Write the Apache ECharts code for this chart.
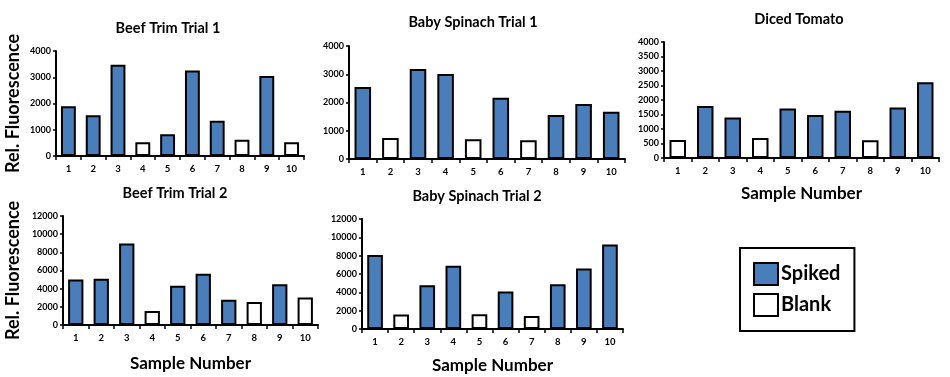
<!DOCTYPE html>
<html lang="en">
<head>
    <meta charset="UTF-8">
    <title>Rel. Fluorescence by Sample</title>
    <script src="https://cdn.jsdelivr.net/npm/echarts@6/dist/echarts.min.js"></script>
    <style>
        html, body { margin: 0; padding: 0; background: #fff; }
        #chart { width: 950px; height: 377px; }
    </style>
</head>
<body>
    <div id="chart"></div>
    <script>
        // sample labels on every x axis
        const samples = ['1', '2', '3', '4', '5', '6', '7', '8', '9', '10'];

        // values, one array per panel
        const beefTrim1 = [1900, 1550, 3480, 520, 830, 3260, 1340, 620, 3050, 520];
        const babySpinach1 = [2550, 740, 3190, 3010, 700, 2170, 660, 1560, 1950, 1670];
        const dicedTomato = [620, 1790, 1400, 690, 1710, 1480, 1630, 610, 1740, 2610];
        const beefTrim2 = [5010, 5090, 8960, 1540, 4320, 5630, 2780, 2520, 4500, 3040];
        const babySpinach2 = [8060, 1570, 4780, 6890, 1600, 4090, 1420, 4890, 6600, 9230];

        // which samples are blanks (the rest are spiked)
        const beefTrim1Blank = ['4', '8', '10'];
        const babySpinach1Blank = ['2', '5', '7'];
        const dicedTomatoBlank = ['1', '4', '8'];
        const beefTrim2Blank = ['4', '8', '10'];
        const babySpinach2Blank = ['2', '5', '7'];

        const FONT = 'Lato, "Open Sans", sans-serif';
        const SPIKED = '#4a7ebb';

        const panels = [
            { title: 'Beef Trim Trial 1', values: beefTrim1, blank: beefTrim1Blank, max: 4000, step: 1000,
              grid: { left: 56, top: 51, width: 248, height: 105 }, titleX: 168, titleY: 21, yName: true, yGap: 34 },
            { title: 'Baby Spinach Trial 1', values: babySpinach1, blank: babySpinach1Blank, max: 4000, step: 1000,
              grid: { left: 349, top: 46, width: 276, height: 113 }, titleX: 473, titleY: 15 },
            { title: 'Diced Tomato', values: dicedTomato, blank: dicedTomatoBlank, max: 4000, step: 500,
              grid: { left: 664, top: 42, width: 275, height: 116 }, titleX: 799, titleY: 12, xName: true, xGap: 27 },
            { title: 'Beef Trim Trial 2', values: beefTrim2, blank: beefTrim2Blank, max: 12000, step: 2000,
              grid: { left: 63, top: 216, width: 255, height: 109 }, titleX: 175, titleY: 186, yName: true, yGap: 41, xName: true, xGap: 30 },
            { title: 'Baby Spinach Trial 2', values: babySpinach2, blank: babySpinach2Blank, max: 12000, step: 2000,
              grid: { left: 362, top: 219, width: 261, height: 110 }, titleX: 477, titleY: 189, xName: true, xGap: 28 }
        ];

        const titles = [], grids = [], xAxes = [], yAxes = [], series = [];

        panels.forEach((p, i) => {
            titles.push({
                text: p.title, left: p.titleX, top: p.titleY, textAlign: 'center', padding: 0,
                textStyle: { fontFamily: FONT, fontSize: 14.5, fontWeight: 'bold', color: '#000' }
            });
            grids.push(Object.assign({ containLabel: false }, p.grid));
            xAxes.push({
                type: 'category', gridIndex: i, data: samples,
                name: p.xName ? 'Sample Number' : '', nameLocation: 'middle', nameGap: p.xGap || 0,
                nameTextStyle: { fontFamily: FONT, fontSize: 17, fontWeight: 'bold', color: '#000', verticalAlign: 'top' },
                axisLine: { lineStyle: { color: '#000', width: 2 } },
                axisTick: { show: true, interval: 0, length: 4, lineStyle: { color: '#000', width: 1.5 } },
                axisLabel: { interval: 0, margin: 8, fontFamily: FONT, fontSize: 9.5, fontWeight: 'bold', color: '#000' }
            });
            yAxes.push({
                type: 'value', gridIndex: i, min: 0, max: p.max, interval: p.step,
                name: p.yName ? 'Rel. Fluorescence' : '', nameLocation: 'middle', nameGap: p.yGap || 0, nameRotate: 90,
                nameTextStyle: { fontFamily: FONT, fontSize: 18, fontWeight: 'bold', color: '#000' },
                splitLine: { show: false },
                axisLine: { show: true, lineStyle: { color: '#000', width: 2 } },
                axisTick: { show: true, length: 3, lineStyle: { color: '#000', width: 1.5 } },
                axisLabel: { margin: 5, fontFamily: FONT, fontSize: 9, fontWeight: 'bold', color: '#000',
                    formatter: v => String(v) }
            });
            const spiked = p.values.map((v, k) => p.blank.includes(samples[k]) ? '-' : v);
            const blank = p.values.map((v, k) => p.blank.includes(samples[k]) ? v : '-');
            series.push({
                name: 'Spiked', type: 'bar', xAxisIndex: i, yAxisIndex: i, data: spiked,
                barWidth: '60%', barGap: '-100%',
                itemStyle: { color: SPIKED, borderColor: '#000', borderWidth: 2 }
            });
            series.push({
                name: 'Blank', type: 'bar', xAxisIndex: i, yAxisIndex: i, data: blank,
                barWidth: '60%', barGap: '-100%',
                itemStyle: { color: '#fff', borderColor: '#000', borderWidth: 2 }
            });
        });

        const chart = echarts.init(document.getElementById('chart'));
        chart.setOption({
            animation: false,
            title: titles,
            grid: grids,
            xAxis: xAxes,
            yAxis: yAxes,
            legend: {
                orient: 'vertical', left: 740, top: 248,
                padding: [14, 14, 14, 13], itemGap: 7, itemWidth: 24, itemHeight: 22,
                borderColor: '#000', borderWidth: 2, backgroundColor: '#fff',
                selectedMode: false,
                data: [
                    { name: 'Spiked', icon: 'rect', itemStyle: { color: SPIKED, borderColor: '#000', borderWidth: 2 } },
                    { name: 'Blank', icon: 'rect', itemStyle: { color: '#fff', borderColor: '#000', borderWidth: 2 } }
                ],
                textStyle: { fontFamily: FONT, fontSize: 20, fontWeight: 'bold', color: '#000', padding: [0, 0, 0, -2] }
            },
            series: series
        });
    </script>
</body>
</html>
